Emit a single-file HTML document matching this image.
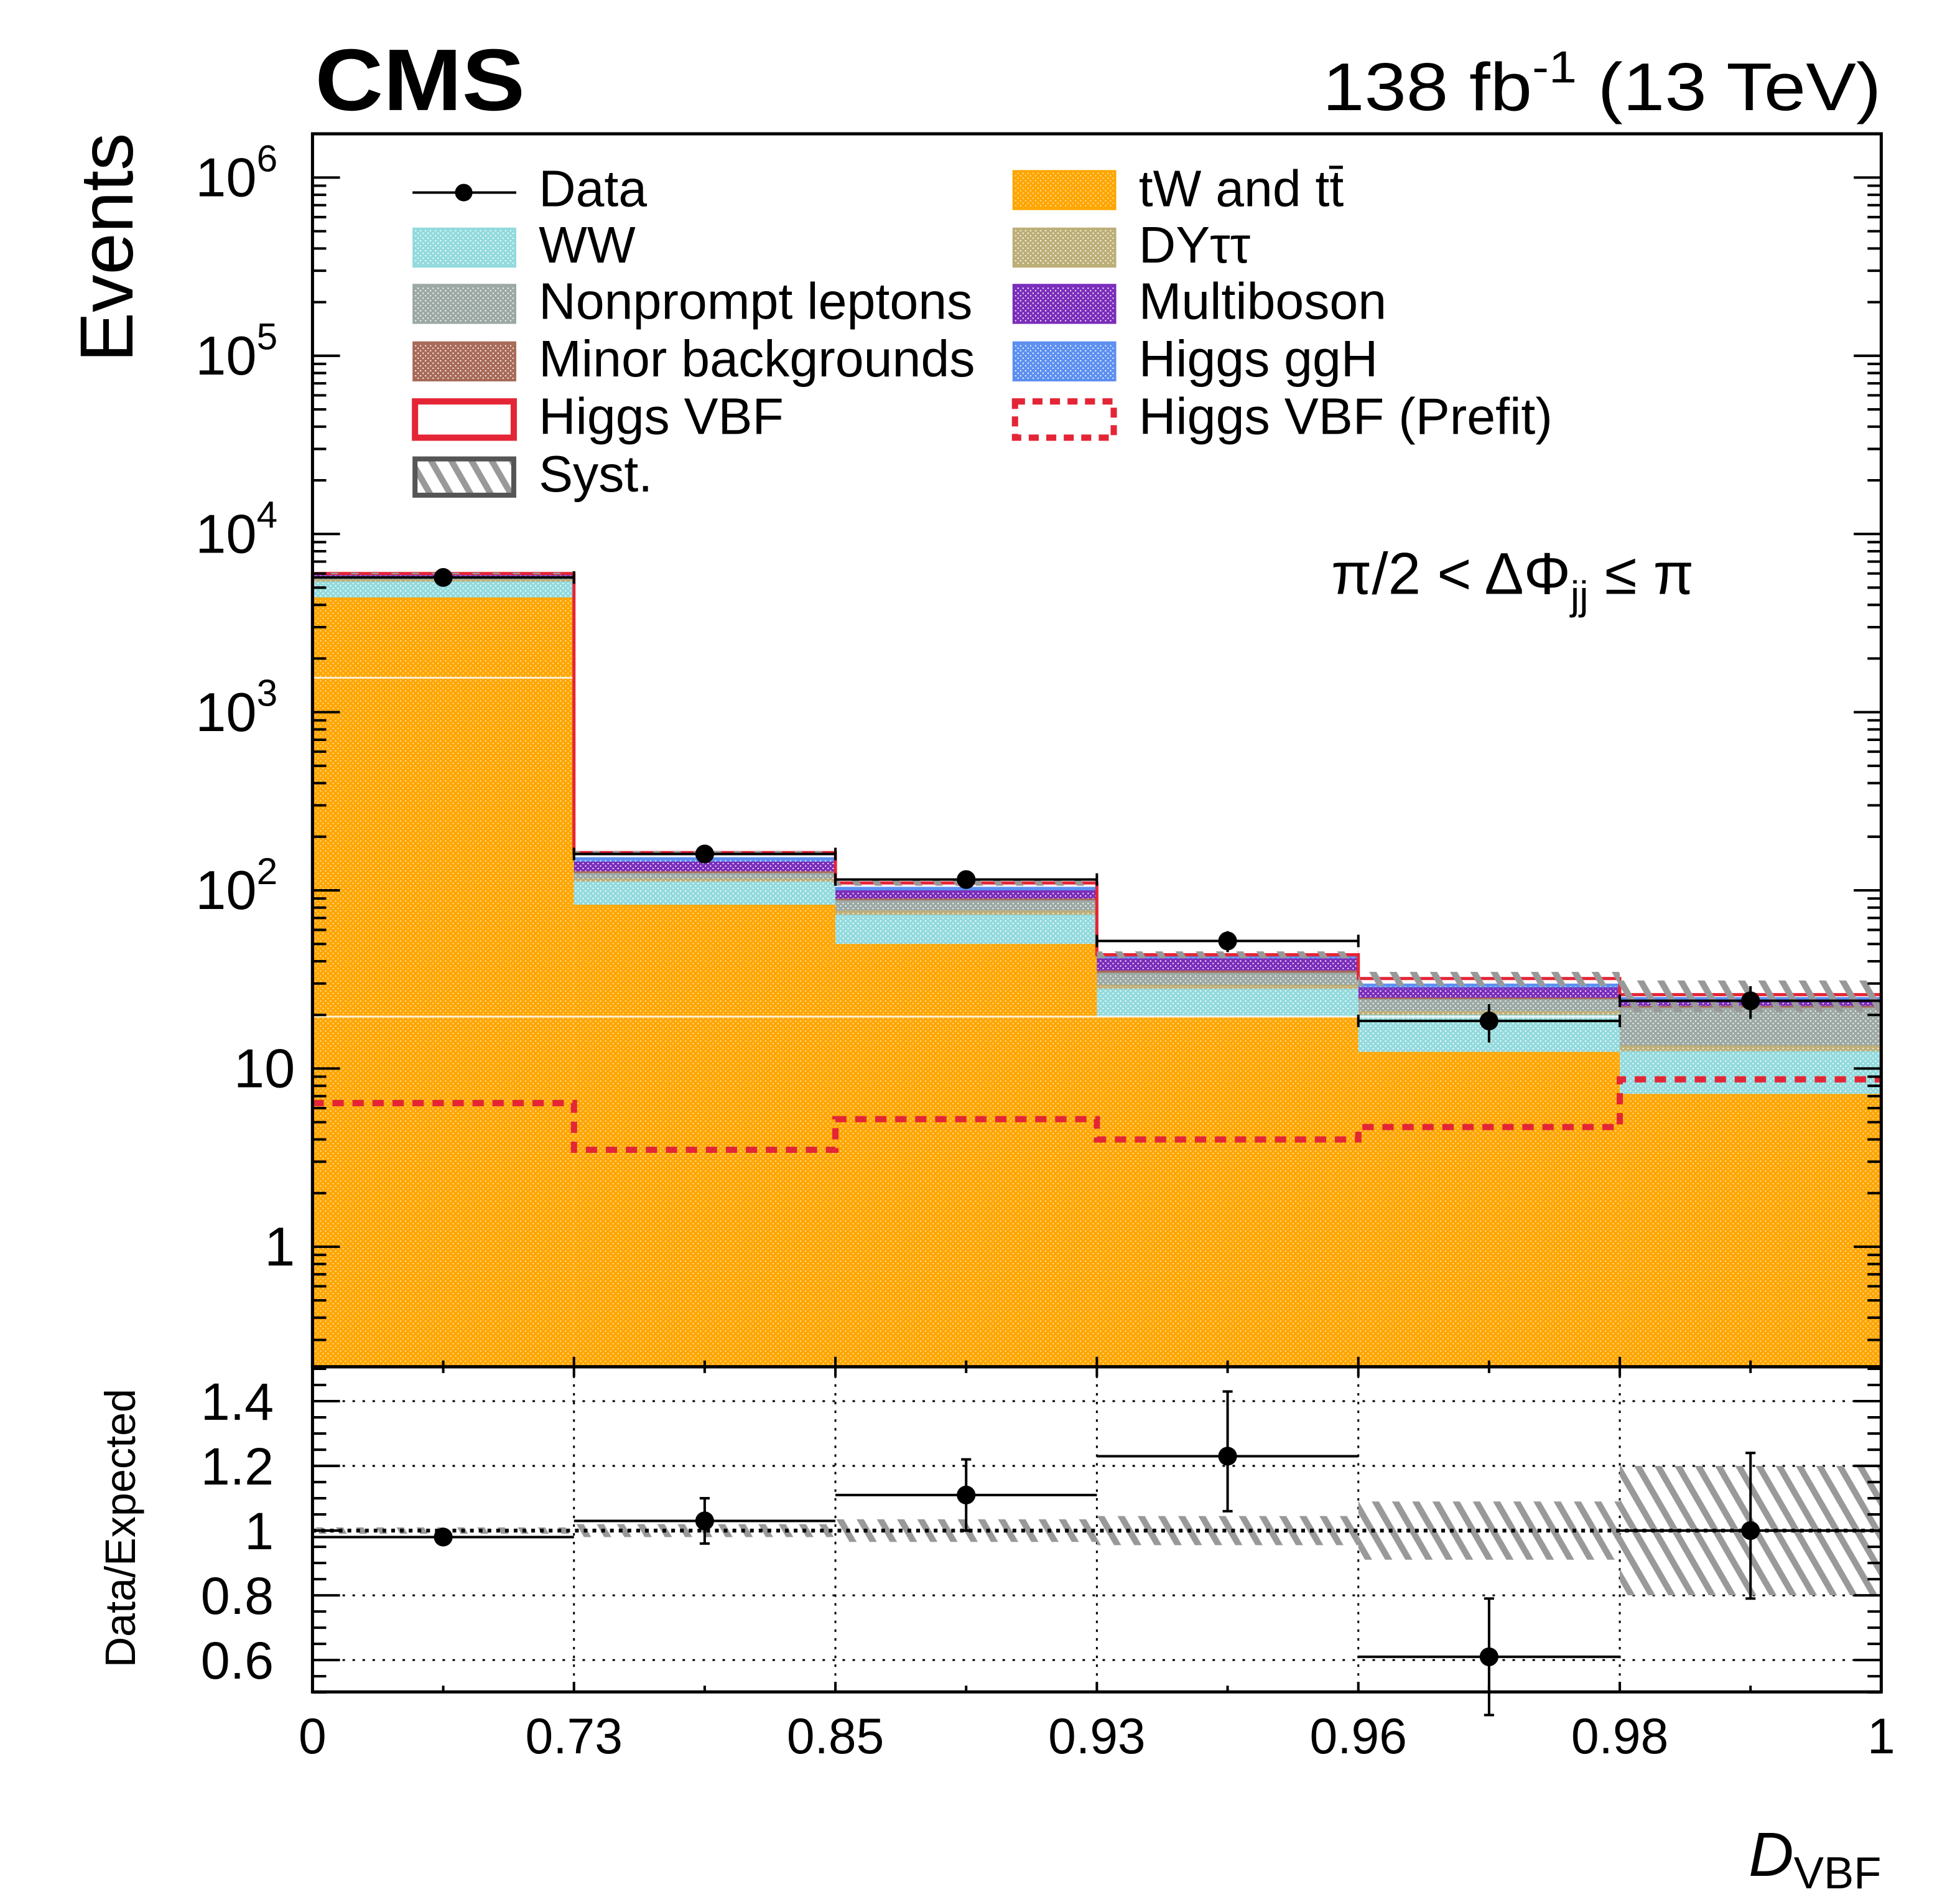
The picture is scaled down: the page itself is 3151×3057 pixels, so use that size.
<!DOCTYPE html>
<html><head><meta charset="utf-8"><style>
html,body{margin:0;padding:0;background:#fff;}
svg{display:block;}
text{font-family:"Liberation Sans",Arial,sans-serif;fill:#000;}
</style></head><body>
<svg id="chart" width="3151" height="3057" viewBox="0 0 1568 1521" preserveAspectRatio="none" xmlns="http://www.w3.org/2000/svg">
<defs>
<pattern id="p-tt" width="4" height="4" patternUnits="userSpaceOnUse"><rect width="4" height="4" fill="#ffa500"/><rect x="0" y="0" width="1" height="1" fill="#ffe6b0"/><rect x="2" y="2" width="1" height="1" fill="#ffe6b0"/></pattern>
<pattern id="p-ww" width="4" height="4" patternUnits="userSpaceOnUse"><rect width="4" height="4" fill="#92dadd"/><rect x="0" y="0" width="1" height="1" fill="#fff"/><rect x="2" y="2" width="1" height="1" fill="#fff"/></pattern>
<pattern id="p-np" width="4" height="4" patternUnits="userSpaceOnUse"><rect width="4" height="4" fill="#9ba8a4"/><rect x="0" y="0" width="1" height="1" fill="#fff"/><rect x="2" y="2" width="1" height="1" fill="#fff"/></pattern>
<pattern id="p-dy" width="4" height="4" patternUnits="userSpaceOnUse"><rect width="4" height="4" fill="#bcae77"/><rect x="0" y="0" width="1" height="1" fill="#fff"/><rect x="2" y="2" width="1" height="1" fill="#fff"/></pattern>
<pattern id="p-mb" width="4" height="4" patternUnits="userSpaceOnUse"><rect width="4" height="4" fill="#7a2cbb"/><rect x="0" y="0" width="1" height="1" fill="#fff"/><rect x="2" y="2" width="1" height="1" fill="#fff"/></pattern>
<pattern id="p-mi" width="4" height="4" patternUnits="userSpaceOnUse"><rect width="4" height="4" fill="#a86a58"/><rect x="0" y="0" width="1" height="1" fill="#fff"/><rect x="2" y="2" width="1" height="1" fill="#fff"/></pattern>
<pattern id="p-gg" width="4" height="4" patternUnits="userSpaceOnUse"><rect width="4" height="4" fill="#5c8ff0"/><rect x="0" y="0" width="1" height="1" fill="#fff"/><rect x="2" y="2" width="1" height="1" fill="#fff"/></pattern>
<pattern id="p-hatch" width="14" height="14" patternUnits="userSpaceOnUse" patternTransform="rotate(-30)"><rect x="0" y="0" width="5" height="14" fill="#999"/></pattern>
</defs>
<g id="main-plot"></g>
<g id="ratio-plot"></g>
<g id="axes"></g>

<text x="252" y="88" font-size="70" font-weight="bold" textLength="168" lengthAdjust="spacingAndGlyphs">CMS</text>
<text x="1058" y="88" font-size="54" textLength="447" lengthAdjust="spacingAndGlyphs">138 fb<tspan dy="-22" font-size="36">-1</tspan><tspan dy="22"> (13 TeV)</tspan></text>
<text transform="translate(106,198) rotate(-90)" font-size="60" text-anchor="middle">Events</text>
<text transform="translate(108,1222) rotate(-90)" font-size="34" text-anchor="middle">Data/Expected</text>
<text x="1505" y="1500" font-size="50" text-anchor="end"><tspan font-style="italic">D</tspan><tspan font-size="36" dy="10">VBF</tspan></text>
<text x="1065" y="475" font-size="47">π/2 &lt; ΔΦ<tspan font-size="32" dy="12">jj</tspan><tspan dy="-12"> ≤ π</tspan></text>

<g id="legend">
 <g><line x1="330" y1="154" x2="413" y2="154" stroke="#000" stroke-width="2"/><circle cx="371" cy="154" r="7"/><text x="431" y="165" font-size="41">Data</text></g>
 <g><rect x="331" y="183" width="81" height="30" fill="url(#p-ww)" stroke="#92dadd" stroke-width="2"/><text x="431" y="210" font-size="41">WW</text></g>
 <g><rect x="331" y="228" width="81" height="30" fill="url(#p-np)" stroke="#9ba8a4" stroke-width="2"/><text x="431" y="255" font-size="41" textLength="347" lengthAdjust="spacingAndGlyphs">Nonprompt leptons</text></g>
 <g><rect x="331" y="274" width="81" height="30" fill="url(#p-mi)" stroke="#a86a58" stroke-width="2"/><text x="431" y="301" font-size="41" textLength="349" lengthAdjust="spacingAndGlyphs">Minor backgrounds</text></g>
 <g><rect x="332" y="321" width="79" height="29" fill="none" stroke="#e42536" stroke-width="5"/><text x="431" y="347" font-size="41">Higgs VBF</text></g>
 <g><rect x="332" y="367" width="79" height="29" fill="url(#p-hatch)" stroke="#555" stroke-width="4"/><text x="431" y="393" font-size="41">Syst.</text></g>
 <g><rect x="811" y="137" width="81" height="30" fill="url(#p-tt)" stroke="#ffa500" stroke-width="2"/><text x="911" y="165" font-size="41">tW and tt̄</text></g>
 <g><rect x="811" y="183" width="81" height="30" fill="url(#p-dy)" stroke="#bcae77" stroke-width="2"/><text x="911" y="210" font-size="41">DYττ</text></g>
 <g><rect x="811" y="228" width="81" height="30" fill="url(#p-mb)" stroke="#7a2cbb" stroke-width="2"/><text x="911" y="255" font-size="41">Multiboson</text></g>
 <g><rect x="811" y="274" width="81" height="30" fill="url(#p-gg)" stroke="#5c8ff0" stroke-width="2"/><text x="911" y="301" font-size="41">Higgs ggH</text></g>
 <g><rect x="812" y="321" width="79" height="29" fill="none" stroke="#e42536" stroke-width="5" stroke-dasharray="8,6"/><text x="911" y="347" font-size="41" textLength="331" lengthAdjust="spacingAndGlyphs">Higgs VBF (Prefit)</text></g>
</g>
</svg>
<script>
const binLabels = ["0","0.73","0.85","0.93","0.96","0.98","1"];
const ttbar = [4400, 83, 50, 19.5, 12.4, 7.2];
const ww = [1000, 29, 23, 8.5, 7.6, 5.3];
const dy = [150, 4, 4, 1.5, 1.0, 1.0];
const nonprompt = [200, 9, 11, 5, 3.5, 8.5];
const minor = [50, 3, 2, 1, 0.5, 0.5];
const multiboson = [120, 17, 10, 6, 3.5, 1.5];
const ggh = [50, 6, 3, 1, 1, 0.8];
const vbf = [30, 12, 7, 1, 2.5, 1.2];
const vbfPrefit = [6.4, 3.5, 5.2, 4.0, 4.7, 8.7];
const dataVals = [5700, 160, 115, 52, 18.5, 24];
const dataErr = [75, 13, 11, 7, 4.5, 5];
const ratioVals = [0.98, 1.03, 1.11, 1.23, 0.61, 1.00];
const ratioErrUp = [0.01, 0.07, 0.11, 0.2, 0.18, 0.24];
const ratioErrDn = [0.01, 0.07, 0.11, 0.17, 0.18, 0.21];
const systRel = [0.01, 0.02, 0.035, 0.045, 0.09, 0.2];
const yTickExps = [0,1,2,3,4,5,6];
const yTickLabels = ["1","10","10","10","10","10","10"];
const ratioTicks = [0.6,0.8,1.0,1.2,1.4];
const ratioTickLabels = ["0.6","0.8","1","1.2","1.4"];

const NS="http://www.w3.org/2000/svg";
const X0=250, X1=1505, TOP=107, MB=1093, RB=1353;
const nb = binLabels.length-1;
const bw=(X1-X0)/nb;
function xb(i){return X0+i*bw;}
function ylog(v){return 997-142.5*Math.log10(v);}
function yr(v){return 1224-(v-1)*258.75;}
function mk(tag,attrs,parent){const e=document.createElementNS(NS,tag);for(const k in attrs)e.setAttribute(k,attrs[k]);parent.appendChild(e);return e;}

const main=document.getElementById('main-plot');
const ratio=document.getElementById('ratio-plot');
const axes=document.getElementById('axes');
const layers=[["tt",ttbar,"#ffa500"],["ww",ww,"#92dadd"],["dy",dy,"#bcae77"],["nonprompt",nonprompt,"#9ba8a4"],["minor",minor,"#a86a58"],["multiboson",multiboson,"#7a2cbb"],["ggh",ggh,"#5c8ff0"]];
const pat={tt:"p-tt",ww:"p-ww",dy:"p-dy",nonprompt:"p-np",minor:"p-mi",multiboson:"p-mb",ggh:"p-gg"};
const cum=new Array(nb).fill(0);
layers.forEach(([nm,vals,col])=>{
  for(let i=0;i<nb;i++){
    const lo=cum[i]; const hi=lo+vals[i];
    const yTop=ylog(hi); const yBot=lo>0?ylog(lo):MB;
    const r=mk('rect',{x:xb(i),y:yTop,width:bw,height:Math.max(0,yBot-yTop),fill:'url(#'+pat[nm]+')'},main);
    
    
    mk('line',{x1:xb(i),x2:xb(i+1),y1:yTop,y2:yTop,stroke:col,'stroke-width':2},main);
    cum[i]=hi;
  }
});
mk('line',{x1:X0,x2:xb(1),y1:542,y2:542,stroke:'#fff','stroke-width':1.5,opacity:0.8},main);
mk('line',{x1:X0,x2:xb(5),y1:813,y2:813,stroke:'#fff','stroke-width':1.5,opacity:0.8},main);
let d='';
for(let i=0;i<nb;i++){const t=cum[i]+vbf[i];cum[i]=t;const y=ylog(t);d+=(i==0?'M'+xb(i)+','+MB+' L'+xb(i)+','+y:' L'+xb(i)+','+y)+' L'+xb(i+1)+','+y;}
d+=' L'+X1+','+MB;
const vbfPath=mk('path',{d:d,fill:'none',stroke:'#e42536','stroke-width':2.5},main);


for(let i=0;i<nb;i++){
  const r=mk('rect',{x:xb(i),y:ylog(cum[i]*(1+systRel[i])),width:bw,height:ylog(cum[i]*(1-systRel[i]))-ylog(cum[i]*(1+systRel[i])),fill:'url(#p-hatch)'},main);
  
  
}
let dp='';
for(let i=0;i<nb;i++){const y=ylog(vbfPrefit[i]);dp+=(i==0?'M'+xb(i)+','+y:' L'+xb(i)+','+y)+' L'+xb(i+1)+','+y;}
const pf=mk('path',{d:dp,fill:'none',stroke:'#e42536','stroke-width':5,'stroke-dasharray':'9,7'},main);


for(let i=0;i<nb;i++){
  const cx=xb(i)+bw/2, cy=ylog(dataVals[i]);
  const g=mk('g',{},main);
  
  
  mk('line',{x1:xb(i),x2:xb(i+1),y1:cy,y2:cy,stroke:'#000','stroke-width':2},g);
  mk('line',{x1:xb(i),x2:xb(i),y1:cy-5,y2:cy+5,stroke:'#000','stroke-width':2},g);
  mk('line',{x1:xb(i+1),x2:xb(i+1),y1:cy-5,y2:cy+5,stroke:'#000','stroke-width':2},g);
  mk('line',{x1:cx,x2:cx,y1:ylog(dataVals[i]+dataErr[i]),y2:ylog(dataVals[i]-dataErr[i]),stroke:'#000','stroke-width':2},g);
  mk('circle',{cx:cx,cy:cy,r:7.5,fill:'#000'},g);
}
for(let i=1;i<nb;i++) mk('line',{x1:xb(i),x2:xb(i),y1:MB,y2:RB,stroke:'#000','stroke-width':1.5,'stroke-dasharray':'2,5'},ratio);
ratioTicks.forEach(v=>{ if(v!==1) mk('line',{x1:X0,x2:X1,y1:yr(v),y2:yr(v),stroke:'#000','stroke-width':1.5,'stroke-dasharray':'2,6'},ratio);});
for(let i=0;i<nb;i++){
  const r=mk('rect',{x:xb(i),y:yr(1+systRel[i]),width:bw,height:yr(1-systRel[i])-yr(1+systRel[i]),fill:'url(#p-hatch)'},ratio);
  
  
}
mk('line',{x1:X0,x2:X1,y1:yr(1),y2:yr(1),stroke:'#000','stroke-width':3,'stroke-dasharray':'3,4'},ratio);
for(let i=0;i<nb;i++){
  const cx=xb(i)+bw/2, cy=yr(ratioVals[i]);
  const g=mk('g',{},ratio);
  
  
  mk('line',{x1:xb(i),x2:xb(i+1),y1:cy,y2:cy,stroke:'#000','stroke-width':2},g);
  mk('line',{x1:cx,x2:cx,y1:yr(ratioVals[i]+ratioErrUp[i]),y2:yr(ratioVals[i]-ratioErrDn[i]),stroke:'#000','stroke-width':2},g);
  mk('line',{x1:cx-4,x2:cx+4,y1:yr(ratioVals[i]+ratioErrUp[i]),y2:yr(ratioVals[i]+ratioErrUp[i]),stroke:'#000','stroke-width':2},g);
  mk('line',{x1:cx-4,x2:cx+4,y1:yr(ratioVals[i]-ratioErrDn[i]),y2:yr(ratioVals[i]-ratioErrDn[i]),stroke:'#000','stroke-width':2},g);
  mk('circle',{cx:cx,cy:cy,r:7.5,fill:'#000'},g);
}
const f1=mk('rect',{x:X0,y:TOP,width:X1-X0,height:MB-TOP,fill:'none',stroke:'#000','stroke-width':2.5},axes);


const f2=mk('rect',{x:X0,y:MB,width:X1-X0,height:RB-MB,fill:'none',stroke:'#000','stroke-width':2.5},axes);


for(let e=-1;e<=6;e++){
  for(let m=1;m<10;m++){
    const v=m*Math.pow(10,e); const y=ylog(v);
    if(y<TOP||y>MB) continue;
    const L=m==1?22:11;
    mk('line',{x1:X0,x2:X0+L,y1:y,y2:y,stroke:'#000','stroke-width':2},axes);
    mk('line',{x1:X1,x2:X1-L,y1:y,y2:y,stroke:'#000','stroke-width':2},axes);
  }
}
yTickExps.forEach((e,k)=>{
  const t=mk('text',{x:236,y:ylog(Math.pow(10,e))+15,'font-size':44,'text-anchor':'end'},axes);
  
  
  if(e<=1){t.textContent=yTickLabels[k];}
  else {t.setAttribute('x',222);t.textContent=yTickLabels[k];const s=mk('tspan',{dy:-20,'font-size':30},t);s.textContent=String(e);}
});
for(let v=0.5;v<=1.5001;v+=0.05){
  const y=yr(v); const major=Math.abs(Math.round(v*10)/10-v)<1e-6 && Math.round(v*10)%2===0;
  const L=major?22:11;
  mk('line',{x1:X0,x2:X0+L,y1:y,y2:y,stroke:'#000','stroke-width':2},axes);
  mk('line',{x1:X1,x2:X1-L,y1:y,y2:y,stroke:'#000','stroke-width':2},axes);
}
ratioTicks.forEach((v,k)=>{
  const t=mk('text',{x:219,y:yr(v)+15,'font-size':42,'text-anchor':'end'},axes);
  t.textContent=ratioTickLabels[k];
  
  
});
for(let i=0;i<=nb;i++){
  mk('line',{x1:xb(i),x2:xb(i),y1:MB,y2:MB-8,stroke:'#000','stroke-width':2},axes);
  mk('line',{x1:xb(i),x2:xb(i),y1:RB,y2:RB-8,stroke:'#000','stroke-width':2},axes);
  mk('line',{x1:xb(i),x2:xb(i),y1:MB,y2:MB+8,stroke:'#000','stroke-width':2},axes);
  const t=mk('text',{x:xb(i),y:1402,'font-size':40,'text-anchor':'middle'},axes);
  t.textContent=binLabels[i];
  
  
}
for(let i=0;i<nb;i++){
  const c=xb(i)+bw/2;
  mk('line',{x1:c,x2:c,y1:MB,y2:MB-5,stroke:'#000','stroke-width':2},axes);
  mk('line',{x1:c,x2:c,y1:MB,y2:MB+5,stroke:'#000','stroke-width':2},axes);
  mk('line',{x1:c,x2:c,y1:RB,y2:RB-5,stroke:'#000','stroke-width':2},axes);
}
</script>
</body></html>
